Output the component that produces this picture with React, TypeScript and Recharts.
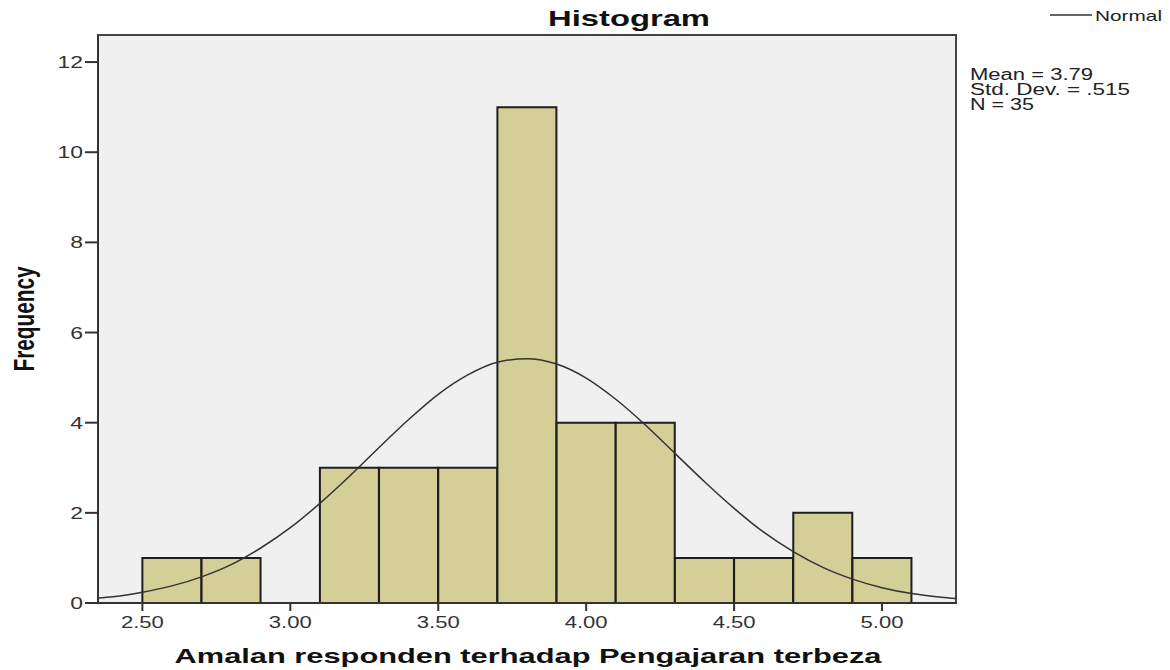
import { ComposedChart, Bar, Line, XAxis, YAxis, CartesianGrid, ReferenceArea, Label } from "recharts";

// histogram bins (width 0.2) and counts
const binStarts = [2.5, 2.7, 2.9, 3.1, 3.3, 3.5, 3.7, 3.9, 4.1, 4.3, 4.5, 4.7, 4.9];
const binCounts = [1, 1, 0, 3, 3, 3, 11, 4, 4, 1, 1, 2, 1];
const binWidth = 0.2;

// normal curve, estimated heights along x
const curveX = [2.35, 2.4, 2.5, 2.6, 2.7, 2.8, 2.9, 3.0, 3.1, 3.2, 3.3, 3.4, 3.5, 3.6, 3.7, 3.8, 3.9, 4.0, 4.1, 4.2, 4.3, 4.4, 4.5, 4.6, 4.7, 4.8, 4.9, 5.0, 5.1, 5.2, 5.25];
const curveY = [0.11, 0.14, 0.24, 0.38, 0.58, 0.85, 1.22, 1.67, 2.21, 2.81, 3.45, 4.07, 4.63, 5.06, 5.34, 5.42, 5.3, 4.99, 4.52, 3.95, 3.32, 2.69, 2.1, 1.57, 1.14, 0.79, 0.53, 0.34, 0.21, 0.13, 0.1];

const xTicks = [2.5, 3, 3.5, 4, 4.5, 5];
const yTicks = [0, 2, 4, 6, 8, 10, 12];
const xDomain: [number, number] = [2.35, 5.25];
const yDomain: [number, number] = [0, 12.6];

const statsLines = ["Mean = 3.79", "Std. Dev. = .515", "N = 35"];

const histData = binStarts.map((s, i) => ({ mid: +(s + binWidth / 2).toFixed(2), count: binCounts[i] }));
const curveData = curveX.map((x, i) => ({ x, y: curveY[i] }));

const FONT = '"Liberation Sans", Arial, sans-serif';

interface TickProps {
  x: number;
  y: number;
  payload: { value: number };
}

const XTick = ({ x, y, payload }: TickProps) => (
  <g transform={`translate(${x},${y})`}>
    <text transform="scale(1.38,1)" y={15} textAnchor="middle" fontSize={16} fill="#333" fontFamily={FONT}>
      {Number(payload.value).toFixed(2)}
    </text>
  </g>
);

const YTick = ({ x, y, payload }: TickProps) => (
  <g transform={`translate(${x},${y})`}>
    <text transform="scale(1.35,1)" y={6} textAnchor="end" fontSize={17} fill="#333" fontFamily={FONT}>
      {payload.value}
    </text>
  </g>
);

interface LabelProps {
  viewBox?: { x: number; y: number; width: number; height: number };
}

const XLabel = ({ viewBox }: LabelProps) => {
  if (!viewBox) return null;
  return (
    <text x={viewBox.x + viewBox.width / 2 + 1} y={viewBox.y + 60} textAnchor="middle" fontSize={21} fontWeight="bold"
      fill="#111" fontFamily={FONT} textLength={707} lengthAdjust="spacingAndGlyphs">
      Amalan responden terhadap Pengajaran terbeza
    </text>
  );
};

// SPSS squeezes the rotated title: tall glyphs, short run
const YLabel = ({ viewBox }: LabelProps) => {
  if (!viewBox) return null;
  const cy = viewBox.y + viewBox.height / 2;
  return (
    <text x={34} y={cy} transform={`rotate(-90, 34, ${cy})`} textAnchor="middle" fontSize={30} fontWeight="bold"
      fill="#111" fontFamily={FONT} textLength={105} lengthAdjust="spacingAndGlyphs">
      Frequency
    </text>
  );
};

export default function App() {
  return (
    <div style={{ position: "absolute", left: 0, top: 0, width: 1170, height: 670, background: "#fff" }}>
      <ComposedChart width={1170} height={670} data={histData} margin={{ top: 35, right: 214, bottom: 0, left: 0 }}
        barCategoryGap={0} barGap={0}>
        <CartesianGrid xAxisId="bins" yAxisId="freq" horizontal={false} vertical={false} fill="#f0f0f0" />
        <XAxis xAxisId="bins" type="number" dataKey="mid" domain={xDomain} ticks={xTicks} allowDataOverflow
          height={67} tickSize={8} tick={XTick} interval={0}
          axisLine={{ stroke: "#333", strokeWidth: 2 }} tickLine={{ stroke: "#333", strokeWidth: 2 }}>
          <Label content={XLabel} />
        </XAxis>
        <XAxis xAxisId="curve" type="number" dataKey="x" domain={xDomain} allowDataOverflow hide />
        <YAxis yAxisId="freq" type="number" domain={yDomain} ticks={yTicks} allowDataOverflow width={98}
          tickSize={13} tick={YTick} interval={0}
          axisLine={{ stroke: "#333", strokeWidth: 2 }} tickLine={{ stroke: "#333", strokeWidth: 2 }}>
          <Label content={YLabel} />
        </YAxis>
        <Bar xAxisId="bins" yAxisId="freq" dataKey="count" fill="#d3cf97" stroke="#1e1e1e" strokeWidth={2}
          isAnimationActive={false} />
        <Line xAxisId="curve" yAxisId="freq" data={curveData} dataKey="y" type="monotone" dot={false}
          stroke="#333" strokeWidth={1.5} isAnimationActive={false} />
        <ReferenceArea xAxisId="bins" yAxisId="freq" x1={xDomain[0]} x2={xDomain[1]} y1={yDomain[0]} y2={yDomain[1]}
          fill="none" fillOpacity={0} stroke="#444" strokeWidth={2} />
      </ComposedChart>
      <svg width={1170} height={130} style={{ position: "absolute", left: 0, top: 0, pointerEvents: "none" }}>
        <text x={629} y={26} textAnchor="middle" fontSize={22} fontWeight="bold" fill="#111" fontFamily={FONT}
          textLength={162} lengthAdjust="spacingAndGlyphs">
          Histogram
        </text>
        <line x1={1050} x2={1092} y1={15} y2={15} stroke="#333" strokeWidth={1.5} />
        <text x={1095} y={21} fontSize={15} fill="#222" fontFamily={FONT} textLength={67} lengthAdjust="spacingAndGlyphs">
          Normal
        </text>
        {statsLines.map((line, i) => (
          <text key={line} x={970} y={80 + i * 15} fontSize={16} fill="#222" fontFamily={FONT}
            textLength={[123, 160, 64][i]} lengthAdjust="spacingAndGlyphs">
            {line}
          </text>
        ))}
      </svg>
    </div>
  );
}
